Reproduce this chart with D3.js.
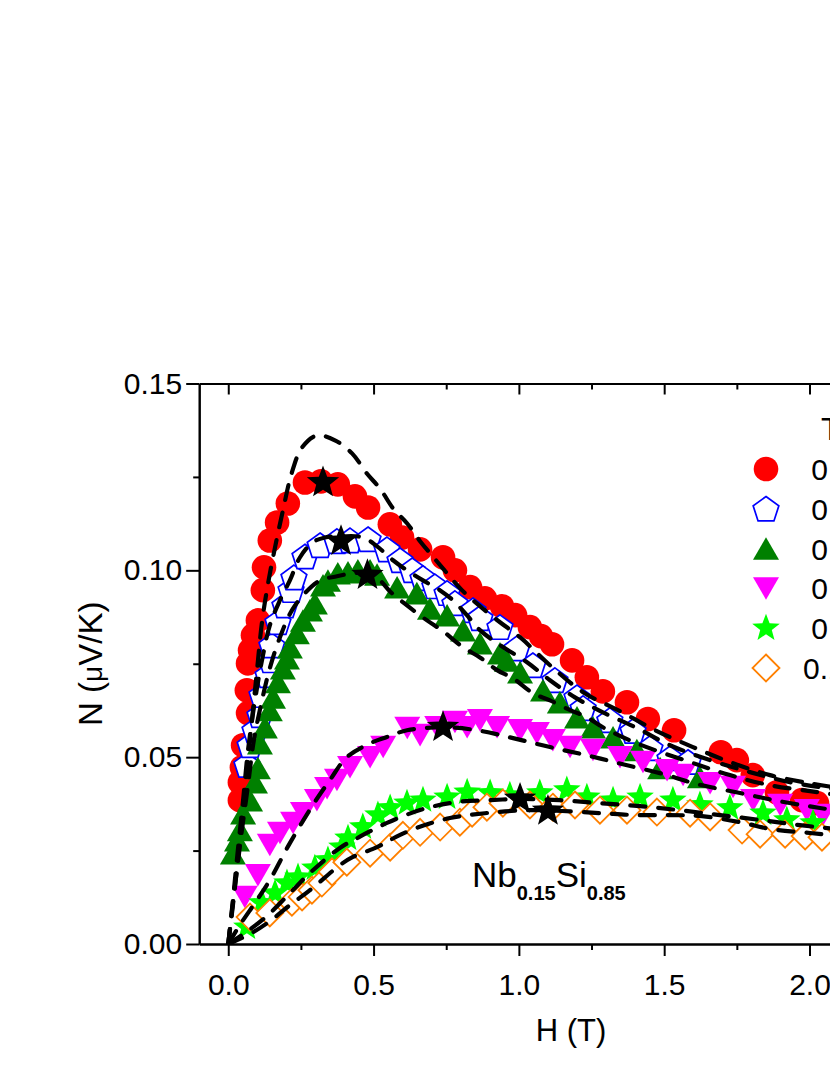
<!DOCTYPE html>
<html><head><meta charset="utf-8">
<script src="https://cdn.jsdelivr.net/npm/d3@7"></script>
<style>
html,body{margin:0;padding:0;background:#fff;overflow:hidden;}
svg{display:block;font-family:"Liberation Sans",Arial,Helvetica,sans-serif;}
</style></head><body>
<svg id="chart" width="830" height="1075"></svg>
<script>
// ---------------- data ----------------
const xDomain = [-0.1, 2.5];
const yDomain = [0, 0.15];
const xMajorTicks = [0, 0.5, 1.0, 1.5, 2.0, 2.5];
const xMinorTicks = [0.25, 0.75, 1.25, 1.75, 2.25];
const yMajorTicks = [0, 0.05, 0.10, 0.15];
const yMinorTicks = [0.025, 0.075, 0.125];
const xTitle = "H (T)";
const legendTitle = "T (K)";
const legendLabels = [" 0.41", " 0.45", " 0.50", " 0.64", " 0.80", "0.100"];

// measured N(H) series [H (T), N (uV/K)]
const seriesRed = [[0.040,0.0385],[0.040,0.0433],[0.047,0.0473],[0.051,0.0532],[0.068,0.0618],[0.064,0.0679],[0.068,0.0751],[0.075,0.0786],[0.085,0.0826],[0.102,0.0866],[0.119,0.0947],[0.123,0.1008],[0.143,0.1080],[0.168,0.1128],[0.205,0.1179],[0.264,0.1235],[0.319,0.1238],[0.377,0.1230],[0.436,0.1198],[0.481,0.1168],[0.556,0.1123],[0.598,0.1088],[0.660,0.1056],[0.739,0.1035],[0.780,0.1000],[0.832,0.0955],[0.883,0.0925],[0.942,0.0904],[0.987,0.0880],[1.038,0.0848],[1.076,0.0824],[1.114,0.0802],[1.183,0.0759],[1.234,0.0714],[1.289,0.0676],[1.372,0.0647],[1.444,0.0602],[1.534,0.0572],[1.695,0.0513],[1.750,0.0492],[1.805,0.0452],[1.888,0.0406],[1.974,0.0385],[2.026,0.0377]];
const seriesBlue = [[0.064,0.0479],[0.075,0.0532],[0.092,0.0572],[0.109,0.0612],[0.116,0.0666],[0.137,0.0719],[0.147,0.0759],[0.150,0.0799],[0.171,0.0861],[0.195,0.0906],[0.216,0.0947],[0.226,0.0981],[0.264,0.1037],[0.316,0.1067],[0.374,0.1078],[0.419,0.1080],[0.481,0.1083],[0.546,0.1056],[0.591,0.1027],[0.633,0.1000],[0.670,0.0979],[0.711,0.0957],[0.753,0.0939],[0.780,0.0912],[0.842,0.0893],[0.866,0.0872],[0.935,0.0848],[0.993,0.0791],[1.048,0.0746],[1.124,0.0706],[1.200,0.0660],[1.221,0.0631],[1.313,0.0599],[1.393,0.0570],[1.451,0.0524],[1.520,0.0497],[1.582,0.0487]];
const seriesGreen = [[0.016,0.0243],[0.030,0.0278],[0.040,0.0305],[0.051,0.0350],[0.075,0.0385],[0.092,0.0433],[0.102,0.0471],[0.109,0.0537],[0.126,0.0580],[0.143,0.0626],[0.154,0.0660],[0.171,0.0701],[0.188,0.0738],[0.202,0.0765],[0.212,0.0794],[0.236,0.0832],[0.257,0.0866],[0.281,0.0893],[0.298,0.0912],[0.326,0.0960],[0.343,0.0973],[0.377,0.0992],[0.412,0.0995],[0.446,0.1000],[0.488,0.1000],[0.512,0.0989],[0.581,0.0955],[0.649,0.0939],[0.694,0.0898],[0.753,0.0880],[0.808,0.0840],[0.866,0.0805],[0.935,0.0778],[0.959,0.0759],[1.004,0.0727],[1.083,0.0679],[1.141,0.0647],[1.200,0.0607],[1.255,0.0580],[1.324,0.0553],[1.406,0.0519],[1.486,0.0471],[1.623,0.0447]];
const seriesMagenta = [[0.057,0.0126],[0.102,0.0184],[0.143,0.0265],[0.178,0.0297],[0.223,0.0324],[0.257,0.0350],[0.305,0.0385],[0.340,0.0417],[0.374,0.0439],[0.419,0.0473],[0.488,0.0500],[0.533,0.0527],[0.616,0.0578],[0.660,0.0559],[0.719,0.0580],[0.780,0.0594],[0.822,0.0580],[0.866,0.0599],[0.925,0.0580],[1.004,0.0572],[1.062,0.0564],[1.117,0.0545],[1.176,0.0527],[1.255,0.0519],[1.348,0.0500],[1.427,0.0487],[1.510,0.0465],[1.565,0.0452],[1.658,0.0430],[1.737,0.0420],[1.806,0.0385],[1.899,0.0372],[1.991,0.0358],[2.046,0.0345]];
const seriesLime = [[0.064,0.0045],[0.116,0.0110],[0.161,0.0136],[0.202,0.0163],[0.240,0.0179],[0.298,0.0203],[0.343,0.0225],[0.391,0.0259],[0.412,0.0283],[0.463,0.0313],[0.515,0.0345],[0.557,0.0364],[0.615,0.0377],[0.670,0.0385],[0.753,0.0393],[0.822,0.0406],[0.901,0.0404],[0.969,0.0398],[1.072,0.0404],[1.165,0.0412],[1.234,0.0393],[1.324,0.0385],[1.417,0.0393],[1.530,0.0385],[1.623,0.0372],[1.726,0.0364],[1.840,0.0350],[1.922,0.0332],[2.012,0.0324]];
const seriesOrange = [[0.075,0.0072],[0.143,0.0083],[0.219,0.0112],[0.254,0.0126],[0.288,0.0144],[0.322,0.0163],[0.357,0.0193],[0.408,0.0219],[0.488,0.0243],[0.557,0.0259],[0.601,0.0291],[0.660,0.0299],[0.729,0.0313],[0.797,0.0326],[0.839,0.0350],[0.890,0.0366],[0.945,0.0377],[1.038,0.0372],[1.117,0.0366],[1.193,0.0372],[1.279,0.0358],[1.372,0.0358],[1.475,0.0353],[1.589,0.0350],[1.658,0.0340],[1.768,0.0305],[1.830,0.0294],[1.916,0.0294],[1.985,0.0289],[2.043,0.0286]];

// fitted curves (dashed)
const fitRed = [[0,0],[0.016,0.0104],[0.033,0.0225],[0.051,0.0358],[0.068,0.0492],[0.085,0.0626],[0.099,0.0733],[0.116,0.0861],[0.133,0.0947],[0.154,0.1035],[0.188,0.1160],[0.219,0.1262],[0.254,0.1329],[0.305,0.1361],[0.367,0.1348],[0.426,0.1313],[0.477,0.1259],[0.522,0.1219],[0.567,0.1166],[0.615,0.1126],[0.660,0.1078],[0.704,0.1037],[0.753,0.0992],[0.804,0.0947],[0.866,0.0904],[0.935,0.0861],[1.004,0.0821],[1.107,0.0746],[1.221,0.0674],[1.348,0.0623],[1.475,0.0570],[1.599,0.0527],[1.726,0.0487],[1.864,0.0452],[2.002,0.0430],[2.105,0.0417]];
const fitBlue = [[0,0],[0.016,0.0118],[0.033,0.0251],[0.051,0.0385],[0.068,0.0519],[0.092,0.0652],[0.116,0.0759],[0.143,0.0853],[0.178,0.0920],[0.212,0.0973],[0.247,0.1035],[0.291,0.1075],[0.333,0.1088],[0.391,0.1091],[0.464,0.1088],[0.512,0.1064],[0.567,0.1027],[0.615,0.1000],[0.670,0.0973],[0.728,0.0947],[0.773,0.0920],[0.821,0.0880],[0.866,0.0840],[0.935,0.0800],[1.028,0.0754],[1.107,0.0706],[1.193,0.0660],[1.289,0.0620],[1.406,0.0578],[1.520,0.0532],[1.658,0.0492],[1.795,0.0460],[1.933,0.0433],[2.105,0.0412]];
const fitGreen = [[0,0],[0.013,0.0091],[0.030,0.0198],[0.047,0.0305],[0.068,0.0425],[0.088,0.0545],[0.116,0.0652],[0.143,0.0738],[0.178,0.0821],[0.219,0.0893],[0.264,0.0939],[0.316,0.0973],[0.374,0.0984],[0.426,0.0992],[0.477,0.0992],[0.522,0.0973],[0.556,0.0944],[0.615,0.0906],[0.684,0.0866],[0.739,0.0837],[0.808,0.0794],[0.866,0.0767],[0.925,0.0733],[0.980,0.0711],[1.049,0.0671],[1.107,0.0652],[1.176,0.0626],[1.234,0.0607],[1.289,0.0580],[1.406,0.0537],[1.589,0.0487],[1.726,0.0452],[1.864,0.0425],[2.002,0.0409],[2.105,0.0398]];
const fitMagenta = [[0,0],[0.040,0.0051],[0.099,0.0118],[0.143,0.0171],[0.212,0.0270],[0.291,0.0372],[0.350,0.0439],[0.408,0.0500],[0.488,0.0537],[0.546,0.0554],[0.615,0.0572],[0.739,0.0580],[0.856,0.0572],[0.980,0.0551],[1.107,0.0527],[1.234,0.0505],[1.358,0.0481],[1.496,0.0455],[1.613,0.0428],[1.761,0.0404],[1.898,0.0382],[2.036,0.0364],[2.105,0.0356]];
const fitLime = [[0,0],[0.057,0.0029],[0.133,0.0075],[0.212,0.0136],[0.281,0.0190],[0.384,0.0257],[0.443,0.0283],[0.546,0.0324],[0.670,0.0361],[0.787,0.0380],[0.901,0.0385],[1.004,0.0388],[1.141,0.0385],[1.279,0.0377],[1.417,0.0369],[1.554,0.0358],[1.692,0.0345],[1.830,0.0332],[1.967,0.0318],[2.105,0.0307]];
const fitOrange = [[0,0],[0.075,0.0027],[0.143,0.0061],[0.212,0.0104],[0.281,0.0144],[0.384,0.0211],[0.429,0.0233],[0.512,0.0259],[0.556,0.0278],[0.636,0.0307],[0.763,0.0337],[0.883,0.0350],[1.028,0.0358],[1.148,0.0356],[1.286,0.0350],[1.400,0.0345],[1.520,0.0345],[1.630,0.0342],[1.761,0.0326],[1.871,0.0307],[2.002,0.0297],[2.105,0.0289]];

// peak positions (black stars)
const peakStars = [[0.326,0.1235],[0.388,0.1078],[0.479,0.0987],[0.739,0.0580],[1.004,0.0388],[1.100,0.0356]];

// ---------------- symbols ----------------
function starPath(R, ratio){
  const r = R*ratio; let p = [];
  for(let i=0;i<10;i++){ const a = -Math.PI/2 + i*Math.PI/5; const rr = i%2===0?R:r; p.push([rr*Math.cos(a), rr*Math.sin(a)]); }
  return "M"+p.map(d=>d[0].toFixed(2)+","+d[1].toFixed(2)).join("L")+"Z";
}
function polyPath(n, R, off){
  let p=[]; for(let i=0;i<n;i++){ const a=-Math.PI/2+i*2*Math.PI/n; p.push([R*Math.cos(a), R*Math.sin(a)+off]); }
  return "M"+p.map(d=>d[0].toFixed(2)+","+d[1].toFixed(2)).join("L")+"Z";
}
function triPath(w, down){
  const h = w*0.866/2; const s = down?-1:1;
  return `M0,${-s*h}L${w/2},${s*h}L${-w/2},${s*h}Z`;
}
const sym = {
  circle: {d:d3.symbol(d3.symbolCircle, Math.PI*12.3*12.3)(), fill:"#ff0000", stroke:"none", sw:0},
  pentagon: {d:polyPath(5,13.5,1.2), fill:"#ffffff", stroke:"#0000ff", sw:1.7},
  triUp: {d:triPath(26,false), fill:"#008000", stroke:"none", sw:0},
  triDown: {d:triPath(26,true), fill:"#ff00ff", stroke:"none", sw:0},
  star: {d:starPath(14.5,0.42), fill:"#00ff00", stroke:"none", sw:0},
  diamond: {d:"M0,-13.5L13.5,0L0,13.5L-13.5,0Z", fill:"#ffffff", stroke:"#ff8000", sw:1.8}
};

// ---------------- layout ----------------
const svg = d3.select("#chart");
const plotL = 199.2, plotR = 954.8, plotT = 383.5, plotB = 944;
const x = d3.scaleLinear().domain(xDomain).range([plotL, plotR]);
const y = d3.scaleLinear().domain(yDomain).range([plotB, plotT]);

const seriesList = [
  {data:seriesRed, s:"circle"},
  {data:seriesBlue, s:"pentagon"},
  {data:seriesGreen, s:"triUp"},
  {data:seriesMagenta, s:"triDown"},
  {data:seriesLime, s:"star"},
  {data:seriesOrange, s:"diamond"}
];
const fits = [fitRed, fitBlue, fitGreen, fitMagenta, fitLime, fitOrange];

svg.append("defs").append("clipPath").attr("id","clip")
  .append("rect").attr("x",plotL).attr("y",plotT).attr("width",plotR-plotL).attr("height",plotB-plotT);

const gData = svg.append("g");
seriesList.forEach(se=>{
  const st = sym[se.s];
  gData.append("g").selectAll("path").data(se.data).join("path")
    .attr("d", st.d)
    .attr("transform", d=>`translate(${x(d[0])},${y(d[1])})`)
    .attr("fill", st.fill).attr("stroke", st.stroke).attr("stroke-width", st.sw);
});

const line = d3.line().x(d=>x(d[0])).y(d=>y(d[1])).curve(d3.curveCatmullRom.alpha(0.5));
svg.append("g").attr("clip-path","url(#clip)").selectAll("path").data(fits).join("path")
  .attr("d", line).attr("fill","none").attr("stroke","#000").attr("stroke-width",4.2)
  .attr("stroke-dasharray","15,13").attr("stroke-linecap","round");

svg.append("g").selectAll("path").data(peakStars).join("path")
  .attr("d", starPath(17,0.42))
  .attr("transform", d=>`translate(${x(d[0])},${y(d[1])})`)
  .attr("fill","#000");

// ---------------- axes ----------------
function styleAxis(g){
  g.selectAll("path.domain").attr("stroke","#000").attr("stroke-width",2);
  g.selectAll(".tick line").attr("stroke","#000").attr("stroke-width",2);
  g.selectAll(".tick text").attr("fill","#000").attr("font-size","30px")
    .attr("font-family",'"Liberation Sans",Arial,sans-serif');
}
const fx = d3.format(".1f"), fy = d3.format(".2f");
svg.append("g").attr("transform",`translate(0,${plotB})`)
  .call(d3.axisBottom(x).tickValues(xMajorTicks).tickFormat(fx).tickSize(12).tickSizeOuter(0).tickPadding(18)).call(styleAxis);
svg.append("g").attr("transform",`translate(0,${plotB})`)
  .call(d3.axisBottom(x).tickValues(xMinorTicks).tickFormat("").tickSize(6).tickSizeOuter(0)).call(styleAxis);
svg.append("g").attr("transform",`translate(0,${plotT})`)
  .call(d3.axisTop(x).tickValues(xMajorTicks).tickFormat("").tickSize(-11).tickSizeOuter(0)).call(styleAxis);
svg.append("g").attr("transform",`translate(0,${plotT})`)
  .call(d3.axisTop(x).tickValues(xMinorTicks).tickFormat("").tickSize(-6).tickSizeOuter(0)).call(styleAxis);
svg.append("g").attr("transform",`translate(${plotL},0)`)
  .call(d3.axisLeft(y).tickValues(yMajorTicks).tickFormat(fy).tickSize(13).tickSizeOuter(0).tickPadding(4)).call(styleAxis);
svg.append("g").attr("transform",`translate(${plotL},0)`)
  .call(d3.axisLeft(y).tickValues(yMinorTicks).tickFormat("").tickSize(6).tickSizeOuter(0)).call(styleAxis);
svg.append("g").attr("transform",`translate(${plotR},0)`)
  .call(d3.axisRight(y).tickValues(yMajorTicks).tickFormat("").tickSize(-11).tickSizeOuter(0)).call(styleAxis);

// axis titles
svg.append("text").attr("x",(plotL+plotR)/2 - 6).attr("y",1041).attr("text-anchor","middle")
  .attr("font-size","31px").attr("fill","#000").text(xTitle);
const yt = svg.append("text").attr("transform",`translate(102,${(plotT+plotB)/2}) rotate(-90)`)
  .attr("text-anchor","middle").attr("font-size","33px").attr("fill","#000");
yt.append("tspan").text("N (");
yt.append("tspan").attr("font-size","28px").text("\u03bc");
yt.append("tspan").text("V/K)");

// compound label
const nb = svg.append("text").attr("x",472).attr("y",887).attr("font-size","35px").attr("fill","#000");
nb.append("tspan").text("Nb");
nb.append("tspan").attr("font-size","20px").attr("font-weight","bold").attr("dy",13).text("0.15");
nb.append("tspan").attr("dy",-13).text("Si");
nb.append("tspan").attr("font-size","20px").attr("font-weight","bold").attr("dy",13).text("0.85");

// legend
const legSymX = 766, legRow0 = 469, legRowH = 39.8, legTextX = 803;
svg.append("text").attr("x",821).attr("y",440).attr("font-size","32px").attr("fill","#000").text(legendTitle);
const lg = svg.append("g");
seriesList.forEach((se,i)=>{
  const st = sym[se.s];
  const cy = legRow0 + i*legRowH;
  lg.append("path").attr("d",st.d).attr("transform",`translate(${legSymX},${cy})`)
    .attr("fill",st.fill).attr("stroke",st.stroke).attr("stroke-width",st.sw);
  lg.append("text").attr("x",legTextX).attr("y",cy+11).attr("font-size","30px").attr("fill","#000")
    .style("white-space","pre").text(legendLabels[i]);
});
</script>
</body></html>
